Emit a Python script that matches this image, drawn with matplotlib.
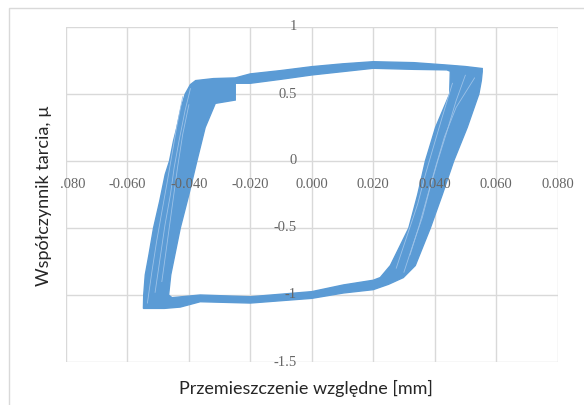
import numpy as np
import matplotlib
matplotlib.use('Agg')
import matplotlib.pyplot as plt
from matplotlib.path import Path
from matplotlib.patches import PathPatch, Rectangle
from matplotlib.transforms import offset_copy

# pętla histerezy: zewnętrzny obrys pasma (zgodnie z ruchem wskazówek)
outer_x = [-0.0548, -0.0547, -0.0542, -0.0530, -0.0515, -0.0495, -0.0477, -0.0463,
           -0.0450, -0.0439, -0.0425, -0.0412, -0.0395, -0.0378,
           -0.0320, -0.0249, -0.0200, -0.0100, 0.0000, 0.0100, 0.0200, 0.0332,
           0.0440, 0.0500, 0.0555,
           0.0555, 0.0552, 0.0544, 0.0506, 0.0462, 0.0425, 0.0386, 0.0337, 0.0298,
           0.0250, 0.0200, 0.0103, 0.0000, -0.0200, -0.0363, -0.0428, -0.0480]
outer_y = [-1.100, -1.000, -0.850, -0.700, -0.500, -0.300, -0.100, 0.000,
           0.150, 0.250, 0.400, 0.500, 0.570, 0.600,
           0.615, 0.620, 0.650, 0.675, 0.704, 0.725, 0.741, 0.734,
           0.716, 0.705, 0.690,
           0.667, 0.600, 0.500, 0.250, 0.000, -0.250, -0.500, -0.780, -0.870,
           -0.920, -0.960, -0.985, -1.025, -1.060, -1.050, -1.090, -1.100]

# wewnętrzny obrys (otwór pętli, przeciwnie do ruchu wskazówek)
inner_x = [-0.0249, -0.0249, -0.0314, -0.0347, -0.0374, -0.0400, -0.0428, -0.0459,
           -0.0466, -0.0455,
           -0.0363, -0.0200, 0.0000, 0.0103, 0.0200, 0.0223,
           0.0256, 0.0316, 0.0345, 0.0370, 0.0403, 0.0449, 0.0451,
           0.0440, 0.0332, 0.0200, 0.0000, -0.0100, -0.0200]
inner_y = [0.580, 0.455, 0.430, 0.250, 0.000, -0.250, -0.500, -0.850,
           -1.000, -1.020,
           -1.000, -1.013, -0.975, -0.925, -0.890, -0.870,
           -0.780, -0.500, -0.250, 0.000, 0.250, 0.500, 0.670,
           0.680, 0.684, 0.692, 0.642, 0.610, 0.580]

# pojedyncze przebiegi widoczne wewnątrz pasm
traces = [
    ([-0.0535, -0.0520, -0.0505, -0.0488, -0.0470, -0.0455, -0.0440, -0.0420],
     [-1.060, -0.820, -0.600, -0.380, -0.150, 0.050, 0.250, 0.480]),
    ([-0.0510, -0.0492, -0.0478, -0.0460, -0.0448, -0.0432, -0.0412, -0.0395],
     [-0.980, -0.700, -0.480, -0.250, -0.050, 0.150, 0.380, 0.540]),
    ([-0.0488, -0.0470, -0.0452, -0.0437, -0.0420, -0.0400],
     [-0.900, -0.600, -0.300, -0.050, 0.200, 0.420]),
    ([0.0300, 0.0330, 0.0360, 0.0385, 0.0410, 0.0440, 0.0470, 0.0500],
     [-0.830, -0.620, -0.420, -0.200, 0.000, 0.220, 0.450, 0.640]),
    ([0.0275, 0.0310, 0.0345, 0.0370, 0.0398, 0.0425, 0.0458],
     [-0.800, -0.560, -0.320, -0.100, 0.120, 0.330, 0.580]),
    ([0.0320, 0.0350, 0.0378, 0.0405, 0.0432, 0.0470, 0.0530],
     [-0.700, -0.480, -0.250, -0.030, 0.180, 0.400, 0.620]),
]

x_ticks = [-0.08, -0.06, -0.04, -0.02, 0.0, 0.02, 0.04, 0.06, 0.08]
x_tick_labels = ['.080', '-0.060', '-0.040', '-0.020', '0.000',
                 '0.020', '0.040', '0.060', '0.080']
y_ticks = [-1.5, -1.0, -0.5, 0.0, 0.5, 1.0]
y_tick_labels = ['-1.5', '-1', '-0.5', '0', '0.5', '1']

BLUE = '#5B9BD5'
GRID = '#D9D9D9'
TICK = '#666666'

W, H = 584, 405
fig = plt.figure(figsize=(W / 100, H / 100), dpi=100)
fig.patch.set_facecolor('white')

# ramka wykresu
fig.patches.append(Rectangle((9 / W, -0.1), 1.2, 1.1 - 8 / H,
                             transform=fig.transFigure, fill=False,
                             edgecolor=GRID, linewidth=1.0))

ax = fig.add_axes([66 / W, 1 - 362 / H, (557.5 - 66) / W, (362 - 27) / H])
ax.set_xlim(-0.08, 0.08)
ax.set_ylim(-1.5, 1.0)
for s in ax.spines.values():
    s.set_visible(False)
ax.set_xticks([])
ax.set_yticks([])

for xv in x_ticks:
    ax.axvline(xv, color=GRID, lw=1.0, zorder=0)
for yv in y_ticks:
    ax.axhline(yv, color=GRID, lw=1.0, zorder=0)

# pasmo pętli jako pierścień (obrys zewnętrzny + otwór)
verts = list(zip(outer_x, outer_y)) + [(outer_x[0], outer_y[0])]
codes = [Path.MOVETO] + [Path.LINETO] * (len(outer_x) - 1) + [Path.CLOSEPOLY]
verts += list(zip(inner_x, inner_y)) + [(inner_x[0], inner_y[0])]
codes += [Path.MOVETO] + [Path.LINETO] * (len(inner_x) - 1) + [Path.CLOSEPOLY]
ring = PathPatch(Path(verts, codes), facecolor=BLUE, edgecolor=BLUE,
                 linewidth=1.0, zorder=2)
ax.add_patch(ring)

for tx, ty in traces:
    ax.plot(tx, ty, color='#9CC2E8', lw=0.6, zorder=3)

# etykiety osi X tuż pod linią y = 0 (pierwsza ucięta przez obszar tytułu osi)
tr_x = offset_copy(ax.transData, fig=fig, x=0, y=-23.5, units='dots')
tr_x0 = offset_copy(ax.transData, fig=fig, x=-6.4, y=-23.5, units='dots')
for i, (xv, lab) in enumerate(zip(x_ticks, x_tick_labels)):
    if i == 0:
        ax.text(xv, 0, lab, transform=tr_x0, ha='left', va='center',
                fontsize=10.5, family='Liberation Serif', color=TICK, zorder=5)
    else:
        ax.text(xv, 0, lab, transform=tr_x, ha='center', va='center',
                fontsize=10.5, family='Liberation Serif', color=TICK, zorder=5)

# etykiety osi Y obok linii x = 0
tr_y = offset_copy(ax.transData, fig=fig, x=-15, y=0, units='dots')
for yv, lab in zip(y_ticks, y_tick_labels):
    ax.text(0, yv, lab, transform=tr_y, ha='right', va='center',
            fontsize=10.5, family='Liberation Serif', color=TICK, zorder=5,
            clip_on=False)

fig.text(306 / W, 1 - 388 / H, 'Przemieszczenie względne [mm]', ha='center',
         va='center', fontsize=13, family='Lato', color='#262626')
fig.text(44 / W, 1 - 196 / H, 'Współczynnik tarcia, µ', ha='center',
         va='center', rotation=90, fontsize=13, family='Lato', color='#262626')

fig.savefig('out.png', dpi=100)
